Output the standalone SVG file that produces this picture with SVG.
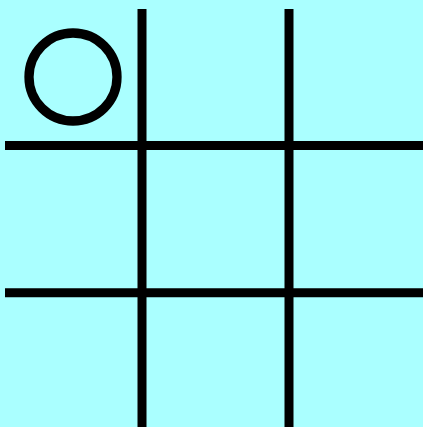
<svg xmlns="http://www.w3.org/2000/svg" width="423" height="427" viewBox="0 0 423 427">
<style>
.g{stroke:#000;stroke-width:9;fill:none}
</style>
<rect x="0" y="0" width="423" height="427" fill="#aaffff"/>
<g id="grid" class="g">
<line x1="142" y1="9" x2="142" y2="427"/>
<line x1="289" y1="9" x2="289" y2="427"/>
<line x1="5" y1="145.5" x2="423" y2="145.5"/>
<line x1="5" y1="292.8" x2="423" y2="292.8"/>
</g>
<g id="mark-o">
<circle cx="73" cy="77" r="44" fill="none" stroke="#000" stroke-width="9.3"/>
</g>
</svg>
